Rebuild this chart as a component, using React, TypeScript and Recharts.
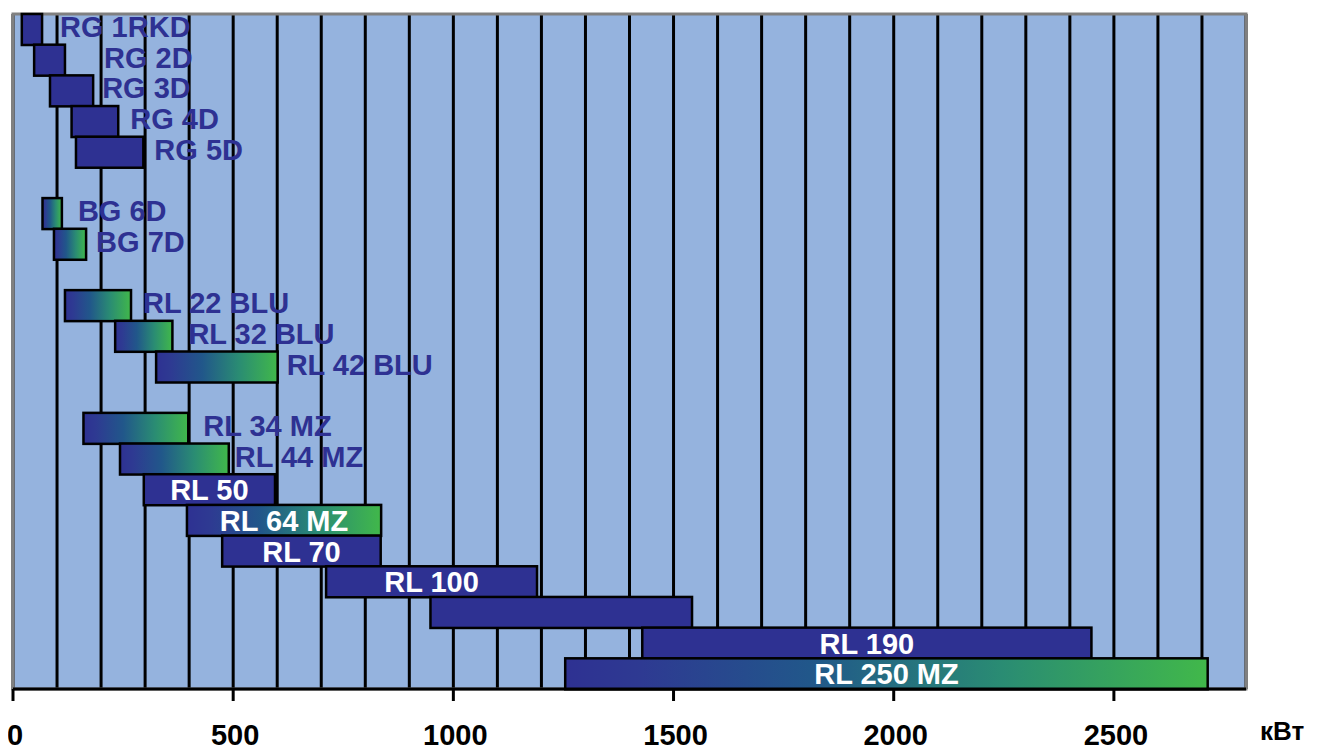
import React from 'react'
import { BarChart, Bar, XAxis, YAxis, CartesianGrid, ReferenceArea } from 'recharts'

// rows top to bottom, null = empty row
const models = ['RG 1RKD', 'RG 2D', 'RG 3D', 'RG 4D', 'RG 5D', null, 'BG 6D', 'BG 7D', null,
  'RL 22 BLU', 'RL 32 BLU', 'RL 42 BLU', null, 'RL 34 MZ', 'RL 44 MZ', 'RL 50', 'RL 64 MZ',
  'RL 70', 'RL 100', '', 'RL 190', 'RL 250 MZ']
const minKw = [20, 48, 84, 133, 143, null, 67, 93, null, 118, 232, 325, null, 160, 243, 297, 395, 475, 711, 948, 1429, 1254]
const maxKw = [66, 118, 182, 239, 296, null, 111, 166, null, 268, 362, 601, null, 398, 490, 595, 836, 835, 1190, 1542, 2449, 2713]
const gradientRow = [0, 0, 0, 0, 0, 0, 1, 1, 0, 1, 1, 1, 0, 1, 1, 0, 1, 0, 0, 0, 0, 1]
const labelInside = [0, 0, 0, 0, 0, 0, 0, 0, 0, 0, 0, 0, 0, 0, 0, 1, 1, 1, 1, 1, 1, 1]
const gridTicks = [0, 100, 200, 300, 400, 500, 600, 700, 800, 900, 1000, 1100, 1200, 1300, 1400,
  1500, 1600, 1700, 1800, 1900, 2000, 2100, 2200, 2300, 2400, 2500, 2600, 2700, 2800]

// px gap between bar end and outside label
const labelGap = [18, 39, 9, 12, 11, 0, 16, 10, 0, 12, 16, 9, 0, 15, 6]

const BLUE = '#2E3192'
const FONT = 'Arial, "Liberation Sans", sans-serif'

const rows = models.map((m, i) => ({
  id: 'r' + i,
  name: m,
  base: minKw[i],
  span: minKw[i] == null ? null : maxKw[i] - minKw[i],
  grad: gradientRow[i] === 1,
  inside: labelInside[i] === 1,
  gap: labelGap[i] || 10,
}))

const RangeShape = (props: any) => {
  const { x, y, width, height, payload, index } = props
  const row = payload && payload.id ? payload : rows[index]
  if (!row || row.span == null || !width) return <g />
  const gid = 'g_' + row.id
  const cy = y + height / 2
  return (
    <g>
      {row.grad && (
        <defs>
          <linearGradient id={gid} x1="0" y1="0" x2="1" y2="0">
            <stop offset="0%" stopColor="#2E3192" />
            <stop offset="12%" stopColor="#2E3A92" />
            <stop offset="38%" stopColor="#21578A" />
            <stop offset="68%" stopColor="#2A8C73" />
            <stop offset="100%" stopColor="#41B84A" />
          </linearGradient>
        </defs>
      )}
      <rect x={x} y={y} width={width} height={height} fill={row.grad ? `url(#${gid})` : BLUE} stroke="#000" strokeWidth={2.5} />
      {row.name ? (
        row.inside ? (
          <text x={x + width / 2} y={cy + 10.5} textAnchor="middle" fill="#fff" fontSize={29} fontWeight="bold" fontFamily={FONT}>{row.name}</text>
        ) : (
          <text x={x + width + row.gap} y={cy + 7.5} textAnchor="start" fill={BLUE} fontSize={29} fontWeight="bold" fontFamily={FONT}>{row.name}</text>
        )
      ) : null}
    </g>
  )
}

const KwTick = (props: any) => {
  const { x, y, payload } = props
  const v = payload.value
  if (v % 500 !== 0 || v > 2500) return <g />
  return (
    <g>
      <line x1={x} x2={x} y1={y} y2={y + 12} stroke="#000" strokeWidth={3} />
      <text x={x + 2} y={y + 56} textAnchor="middle" fill="#000" fontSize={29} fontWeight="bold" fontFamily={FONT}>{v}</text>
    </g>
  )
}

export default function App() {
  return (
    <div style={{ width: 1325, height: 751, margin: '-8px 0 0 -8px', fontFamily: FONT }}>
      <BarChart width={1325} height={751} data={rows} layout="vertical"
        margin={{ top: 14, right: 79, left: 13, bottom: 0 }} barCategoryGap={0} barGap={0}>
        <CartesianGrid horizontal={false} stroke="#000" strokeWidth={3} fill="#95B3DE" fillOpacity={1} />
        <ReferenceArea x1={0} x2={2800} fill="none" stroke="#808080" strokeWidth={3} />
        <XAxis type="number" domain={[0, 2800]} ticks={gridTicks} interval={0} height={62}
          tickSize={0} tickMargin={0} tick={<KwTick />} allowDataOverflow
          axisLine={{ stroke: '#000', strokeWidth: 3 }}
          label={({ viewBox }: any) => (
            <text x={viewBox.x + viewBox.width + 14} y={viewBox.y + 51} fill="#000" fontSize={26} fontWeight="bold" fontFamily={FONT}>кВт</text>
          )} />
        <YAxis type="category" dataKey="id" hide />
        <Bar dataKey="base" stackId="a" fill="transparent" isAnimationActive={false} />
        <Bar dataKey="span" stackId="a" shape={<RangeShape />} isAnimationActive={false} />
      </BarChart>
    </div>
  )
}
